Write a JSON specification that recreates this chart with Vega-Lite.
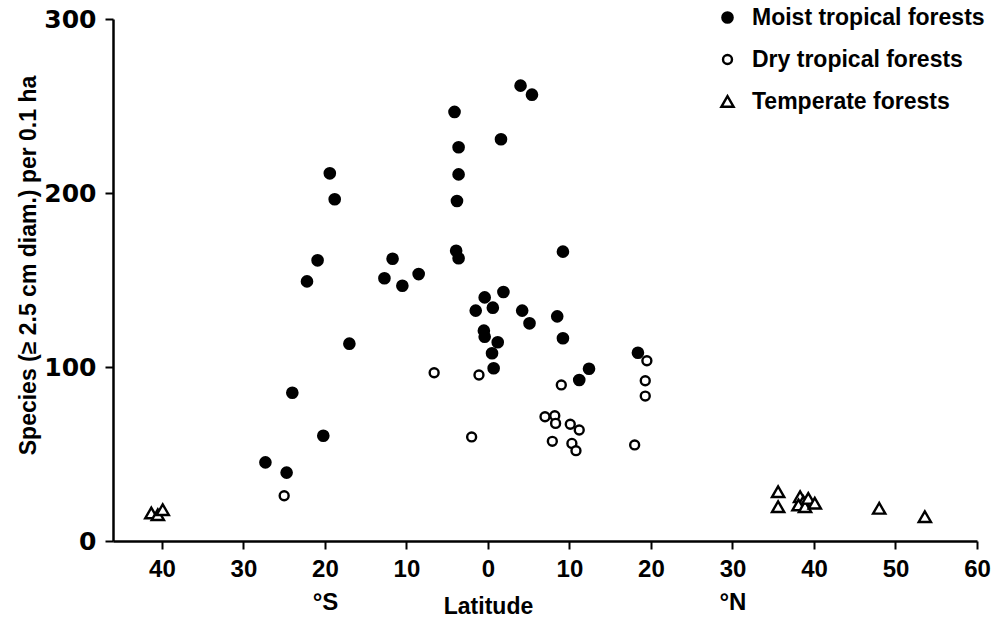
{
  "$schema": "https://vega.github.io/schema/vega-lite/v6.json",
  "autosize": {"type": "none"},
  "width": 864,
  "height": 522,
  "padding": {"left": 113, "top": 19, "right": 22, "bottom": 77},
  "background": "white",
  "config": {
    "view": {"stroke": null},
    "font": "Liberation Sans",
    "axis": {
      "grid": false,
      "domainColor": "black",
      "domainWidth": 2.5,
      "tickColor": "black",
      "tickWidth": 2,
      "tickSize": 8,
      "labelFont": "Liberation Sans",
      "labelFontWeight": "bold",
      "labelColor": "black",
      "titleFont": "Liberation Sans",
      "titleFontWeight": "bold",
      "titleColor": "black"
    }
  },
  "data": {
    "values": [
      {"type": "Moist tropical forests", "lat": -27.3, "species": 45.2},
      {"type": "Moist tropical forests", "lat": -24.7, "species": 39.3},
      {"type": "Moist tropical forests", "lat": -24.0, "species": 85.2},
      {"type": "Moist tropical forests", "lat": -20.2, "species": 60.5},
      {"type": "Moist tropical forests", "lat": -22.2, "species": 149.2},
      {"type": "Moist tropical forests", "lat": -20.9, "species": 161.3},
      {"type": "Moist tropical forests", "lat": -19.4, "species": 211.3},
      {"type": "Moist tropical forests", "lat": -18.8, "species": 196.4},
      {"type": "Moist tropical forests", "lat": -17.0, "species": 113.4},
      {"type": "Moist tropical forests", "lat": -12.7, "species": 151.0},
      {"type": "Moist tropical forests", "lat": -11.7, "species": 162.2},
      {"type": "Moist tropical forests", "lat": -10.5, "species": 146.7},
      {"type": "Moist tropical forests", "lat": -8.5, "species": 153.4},
      {"type": "Moist tropical forests", "lat": -4.1, "species": 246.6},
      {"type": "Moist tropical forests", "lat": -3.6, "species": 226.3},
      {"type": "Moist tropical forests", "lat": -3.6, "species": 210.7},
      {"type": "Moist tropical forests", "lat": -3.8, "species": 195.4},
      {"type": "Moist tropical forests", "lat": -3.9, "species": 166.8},
      {"type": "Moist tropical forests", "lat": -3.6, "species": 162.5},
      {"type": "Moist tropical forests", "lat": 4.0, "species": 261.7},
      {"type": "Moist tropical forests", "lat": 5.4, "species": 256.5},
      {"type": "Moist tropical forests", "lat": 1.6, "species": 230.9},
      {"type": "Moist tropical forests", "lat": 9.2, "species": 166.3},
      {"type": "Moist tropical forests", "lat": -0.4, "species": 140.0},
      {"type": "Moist tropical forests", "lat": 1.9, "species": 143.1},
      {"type": "Moist tropical forests", "lat": -1.5, "species": 132.4},
      {"type": "Moist tropical forests", "lat": 0.6, "species": 134.1},
      {"type": "Moist tropical forests", "lat": 4.2, "species": 132.4},
      {"type": "Moist tropical forests", "lat": 5.1, "species": 125.1},
      {"type": "Moist tropical forests", "lat": 8.5, "species": 129.1},
      {"type": "Moist tropical forests", "lat": -0.5, "species": 120.9},
      {"type": "Moist tropical forests", "lat": -0.4, "species": 117.4},
      {"type": "Moist tropical forests", "lat": 1.2, "species": 114.2},
      {"type": "Moist tropical forests", "lat": 9.2, "species": 116.5},
      {"type": "Moist tropical forests", "lat": 0.5, "species": 107.9},
      {"type": "Moist tropical forests", "lat": 0.7, "species": 99.3},
      {"type": "Moist tropical forests", "lat": 12.4, "species": 99.0},
      {"type": "Moist tropical forests", "lat": 11.2, "species": 92.5},
      {"type": "Moist tropical forests", "lat": 18.4, "species": 108.2},
      {"type": "Dry tropical forests", "lat": -25.0, "species": 26.0},
      {"type": "Dry tropical forests", "lat": -6.6, "species": 96.7},
      {"type": "Dry tropical forests", "lat": -1.1, "species": 95.4},
      {"type": "Dry tropical forests", "lat": -2.0, "species": 59.8},
      {"type": "Dry tropical forests", "lat": 9.0, "species": 89.7},
      {"type": "Dry tropical forests", "lat": 19.5, "species": 103.6},
      {"type": "Dry tropical forests", "lat": 19.3, "species": 92.1},
      {"type": "Dry tropical forests", "lat": 19.3, "species": 83.3},
      {"type": "Dry tropical forests", "lat": 7.0, "species": 71.4},
      {"type": "Dry tropical forests", "lat": 8.2, "species": 72.0},
      {"type": "Dry tropical forests", "lat": 8.3, "species": 67.6},
      {"type": "Dry tropical forests", "lat": 10.1, "species": 67.1},
      {"type": "Dry tropical forests", "lat": 11.2, "species": 63.8},
      {"type": "Dry tropical forests", "lat": 7.9, "species": 57.3},
      {"type": "Dry tropical forests", "lat": 10.3, "species": 56.1},
      {"type": "Dry tropical forests", "lat": 10.8, "species": 51.9},
      {"type": "Dry tropical forests", "lat": 18.0, "species": 55.2},
      {"type": "Temperate forests", "lat": -41.3, "species": 16.1},
      {"type": "Temperate forests", "lat": -40.5, "species": 15.1},
      {"type": "Temperate forests", "lat": -39.9, "species": 18.0},
      {"type": "Temperate forests", "lat": 35.6, "species": 28.3},
      {"type": "Temperate forests", "lat": 35.6, "species": 19.7},
      {"type": "Temperate forests", "lat": 38.3, "species": 25.5},
      {"type": "Temperate forests", "lat": 38.7, "species": 22.6},
      {"type": "Temperate forests", "lat": 38.1, "species": 20.7},
      {"type": "Temperate forests", "lat": 38.9, "species": 19.7},
      {"type": "Temperate forests", "lat": 39.3, "species": 24.5},
      {"type": "Temperate forests", "lat": 40.1, "species": 21.7},
      {"type": "Temperate forests", "lat": 48.0, "species": 18.8},
      {"type": "Temperate forests", "lat": 53.6, "species": 14.0}
    ]
  },
  "mark": {"type": "point", "filled": true, "stroke": "black", "strokeWidth": 2.4, "opacity": 1},
  "encoding": {
    "x": {
      "field": "lat",
      "type": "quantitative",
      "scale": {"domain": [-46, 60], "nice": false, "zero": false},
      "axis": {
        "values": [-40, -30, -20, -10, 0, 10, 20, 30, 40, 50, 60],
        "labelExpr": "datum.value == -20 ? ['20', '°S'] : datum.value == 30 ? ['30', '°N'] : '' + abs(datum.value)",
        "labelFontSize": 24,
        "labelLineHeight": 33,
        "labelPadding": 8,
        "labelOverlap": false,
        "labelFlush": false,
        "title": "Latitude",
        "titleFontSize": 23,
        "titleX": 375,
        "titleY": 72,
        "titleAlign": "center",
        "titleBaseline": "alphabetic"
      }
    },
    "y": {
      "field": "species",
      "type": "quantitative",
      "scale": {"domain": [0, 300], "nice": false},
      "axis": {
        "values": [0, 100, 200, 300],
        "labelFont": "DejaVu Sans",
        "labelFontSize": 25,
        "labelPadding": 9,
        "title": "Species (≥ 2.5 cm diam.) per 0.1 ha",
        "titleFontSize": 23,
        "titleAngle": -90,
        "titleX": -85,
        "titleY": 246,
        "titleAlign": "center",
        "titleBaseline": "middle"
      }
    },
    "shape": {
      "field": "type",
      "type": "nominal",
      "sort": ["Moist tropical forests", "Dry tropical forests", "Temperate forests"],
      "scale": {"domain": ["Moist tropical forests", "Dry tropical forests", "Temperate forests"], "range": ["circle", "circle", "triangle-up"]},
      "legend": {
        "title": null,
        "orient": "none",
        "legendX": 603,
        "legendY": -13,
        "padding": 0,
        "labelFont": "Liberation Sans",
        "labelFontWeight": "bold",
        "labelFontSize": 23,
        "labelColor": "black",
        "labelLimit": 400,
        "labelOffset": 13,
        "rowPadding": 18,
        "symbolStrokeColor": "black",
        "symbolStrokeWidth": 2.4,
        "symbolOpacity": 1,
        "encode": {"symbols": {"update": {"stroke": {"value": "black"}, "strokeWidth": {"value": 2.4}}}}
      }
    },
    "fill": {
      "field": "type",
      "type": "nominal",
      "sort": ["Moist tropical forests", "Dry tropical forests", "Temperate forests"],
      "scale": {"domain": ["Moist tropical forests", "Dry tropical forests", "Temperate forests"], "range": ["black", "white", "white"]},
      "legend": {
        "title": null,
        "orient": "none",
        "legendX": 603,
        "legendY": -13,
        "padding": 0,
        "labelFont": "Liberation Sans",
        "labelFontWeight": "bold",
        "labelFontSize": 23,
        "labelColor": "black",
        "labelLimit": 400,
        "labelOffset": 13,
        "rowPadding": 18,
        "symbolStrokeColor": "black",
        "symbolStrokeWidth": 2.4,
        "symbolOpacity": 1,
        "encode": {"symbols": {"update": {"stroke": {"value": "black"}, "strokeWidth": {"value": 2.4}}}}
      }
    },
    "size": {
      "field": "type",
      "type": "nominal",
      "sort": ["Moist tropical forests", "Dry tropical forests", "Temperate forests"],
      "scale": {"type": "ordinal", "domain": ["Moist tropical forests", "Dry tropical forests", "Temperate forests"], "range": [105, 80, 150]},
      "legend": {
        "title": null,
        "orient": "none",
        "legendX": 603,
        "legendY": -13,
        "padding": 0,
        "labelFont": "Liberation Sans",
        "labelFontWeight": "bold",
        "labelFontSize": 23,
        "labelColor": "black",
        "labelLimit": 400,
        "labelOffset": 13,
        "rowPadding": 18,
        "symbolStrokeColor": "black",
        "symbolStrokeWidth": 2.4,
        "symbolOpacity": 1,
        "encode": {"symbols": {"update": {"stroke": {"value": "black"}, "strokeWidth": {"value": 2.4}}}}
      }
    }
  }
}
